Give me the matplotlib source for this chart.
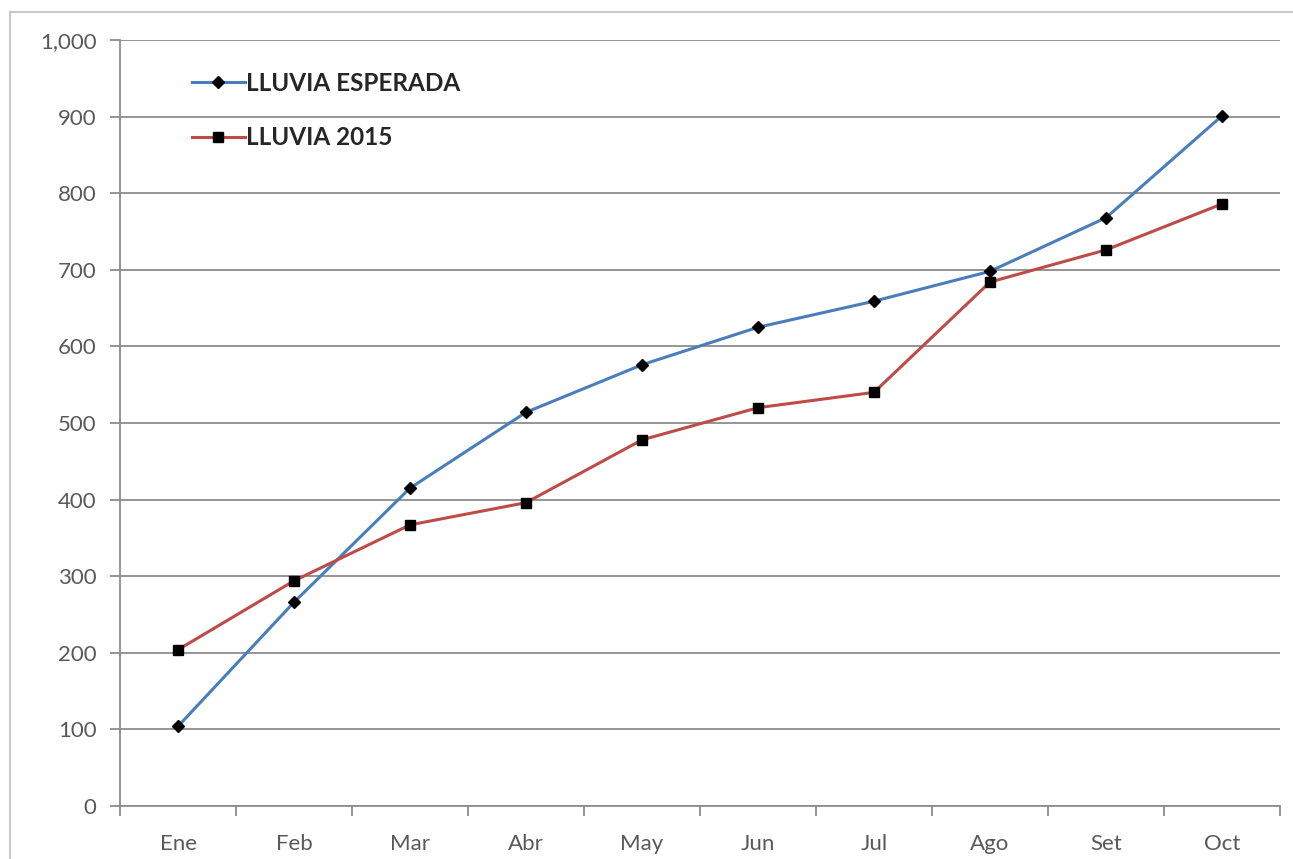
import matplotlib.pyplot as plt
from matplotlib.patches import Rectangle

# datos
meses = ["Ene", "Feb", "Mar", "Abr", "May", "Jun", "Jul", "Ago", "Set", "Oct"]
lluvia_esperada = [104, 266, 415, 514, 576, 625, 659, 698, 768, 901]
lluvia_2015 = [204, 294, 367, 396, 478, 520, 540, 684, 726, 786]

plt.rcParams['font.family'] = ['Lato', 'DejaVu Sans']

fig = plt.figure(figsize=(12.93, 8.59), dpi=100)
ax = fig.add_axes([120 / 1293, 1 - 806 / 859, 1160 / 1293, 766 / 859])

# marco exterior
fig.patches.append(Rectangle((10 / 1293, -0.02), 1.0, 1 - 12 / 859 + 0.02,
                             transform=fig.transFigure, fill=False,
                             edgecolor='#c8c8c8', linewidth=1.5))

x = list(range(len(meses)))
ax.plot(x, lluvia_esperada, color='#4a7ebb', linewidth=2.2, marker='D',
        markersize=6, markerfacecolor='black', markeredgecolor='black',
        label='LLUVIA ESPERADA', zorder=3)
ax.plot(x, lluvia_2015, color='#be4b48', linewidth=2.2, marker='s',
        markersize=7.5, markerfacecolor='black', markeredgecolor='black',
        label='LLUVIA 2015', zorder=3)

ax.set_xlim(-0.5, len(meses) - 0.5)
ax.set_ylim(0, 1000)
ax.set_yticks(range(0, 1001, 100))
ax.set_yticklabels([f"{v:,}" for v in range(0, 1001, 100)])
ax.set_xticks(x)
ax.set_xticklabels(meses)
ax.set_xticks([i - 0.5 for i in range(len(meses) + 1)], minor=True)

ax.grid(axis='y', color='#8c8c8c', linewidth=1.3)
ax.set_axisbelow(True)
for s in ['top', 'right']:
    ax.spines[s].set_visible(False)
for s in ['left', 'bottom']:
    ax.spines[s].set_color('#8c8c8c')
    ax.spines[s].set_linewidth(1.3)

ax.tick_params(axis='y', length=7, width=1.3, color='#8c8c8c',
               labelsize=16, labelcolor='#595959', pad=10)
ax.tick_params(axis='x', which='major', length=0, labelsize=16,
               labelcolor='#595959', pad=20)
ax.tick_params(axis='x', which='minor', length=7, width=1.3, color='#8c8c8c')

leg = ax.legend(loc='upper left', bbox_to_anchor=(0.043, 0.987), frameon=False,
                handlelength=2.2, handletextpad=0.05, labelspacing=1.3,
                prop={'size': 17.5, 'weight': 'bold'})
for t in leg.get_texts():
    t.set_color('#262626')

fig.savefig('out.png', dpi=100)
